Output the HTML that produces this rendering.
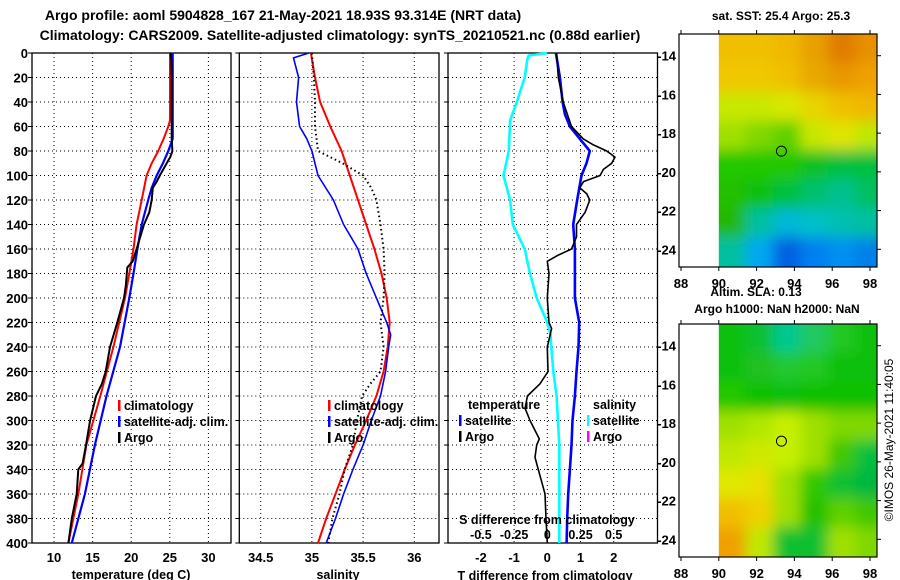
<!DOCTYPE html>
<html><head><meta charset="utf-8"><style>
html,body{margin:0;padding:0;background:#fff}
svg{display:block}
text{font-family:"Liberation Sans",sans-serif;font-weight:bold;fill:#000}
</style></head><body>
<svg id="s" width="900" height="580" viewBox="0 0 900 580" xmlns="http://www.w3.org/2000/svg">
<text x="283" y="20" font-size="14" text-anchor="middle">Argo profile: aoml 5904828_167 21-May-2021 18.93S 93.314E (NRT data)</text>
<text x="340" y="40" font-size="14" text-anchor="middle">Climatology: CARS2009. Satellite-adjusted climatology: synTS_20210521.nc (0.88d earlier)</text>
<g id="g1"></g>
<g id="g2"></g>
<g id="g3"></g>
<g id="m1"></g>
<g id="m2"></g>
<text x="781" y="20" font-size="12" text-anchor="middle">sat. SST: 25.4 Argo: 25.3</text>
<text x="756" y="296" font-size="12" text-anchor="middle">Altim. SLA: 0.13</text>
<text x="777" y="313" font-size="12" text-anchor="middle">Argo h1000: NaN h2000: NaN</text>
<text transform="translate(893,440) rotate(-90)" font-size="12" style="font-weight:normal" text-anchor="middle">©IMOS 26-May-2021 11:40:05</text>
</svg>
<script>
// ---- data ----
const depthTicks=[0,20,40,60,80,100,120,140,160,180,200,220,240,260,280,300,320,340,360,380,400];
const tTicks=[10,15,20,25,30];
const sTicks=[34.5,35,35.5,36];
const dTicks=[-2,-1,0,1,2];
const sdTicks=[-0.5,-0.25,0,0.25,0.5];
const sdTickLabels=["-0.5","-0.25","0","0.25","0.5"];

const climTdepth=[0,55,60,70,80,90,100,120,140,160,180,200,240,280,320,360,400];
const climT=[25.03,25.03,24.8,24.2,23.5,22.65,22.0,21.36,20.7,20.3,19.76,19.2,17.7,16.0,14.2,13.15,11.86];
const satTdepth=[0,70,80,90,100,110,120,140,160,180,200,240,280,320,360,400];
const satT=[25.38,25.38,24.8,24.1,23.3,22.65,22.2,21.36,20.8,20.3,19.76,18.55,16.8,15.3,14.0,12.3];
const argoTdepth=[0,5,20,70,80,85,90,100,105,110,120,130,140,160,170,175,190,200,220,240,260,270,280,300,320,335,340,360,380,400];
const argoT=[25.1,25.2,25.25,25.25,25.34,25.05,24.6,23.7,23.3,22.8,22.65,22.35,21.66,20.7,20.2,19.5,19.3,19.07,18.2,17.26,16.7,16.2,15.44,14.67,14.15,13.7,13.15,12.94,12.3,11.86];

const climSdepth=[0,20,40,60,80,100,120,140,160,180,200,220,240,260,280,300,320,340,360,380,400];
const climS=[34.99,35.03,35.08,35.18,35.29,35.37,35.45,35.53,35.61,35.68,35.73,35.76,35.74,35.70,35.63,35.53,35.42,35.32,35.23,35.14,35.06];
const satSdepth=[0,4,20,40,60,70,80,100,120,140,160,180,200,220,230,240,260,280,300,320,340,360,380,400];
const satS=[34.97,34.82,34.87,34.85,34.88,34.95,35.0,35.06,35.21,35.31,35.45,35.53,35.63,35.73,35.77,35.75,35.72,35.67,35.58,35.50,35.40,35.31,35.23,35.14];
const argoSdepth=[0,20,40,60,80,90,100,110,120,140,160,180,200,220,240,260,270,280,300,320,340,360,380,400];
const argoS=[35.0,35.02,35.03,35.03,35.06,35.3,35.5,35.58,35.63,35.67,35.70,35.71,35.70,35.67,35.70,35.67,35.57,35.49,35.44,35.40,35.32,35.27,35.20,35.16];

const dTdepth=[0,20,40,50,60,70,80,90,100,120,140,160,180,200,220,240,260,280,300,320,340,360,380,400];
const dTsat=[0.26,0.38,0.46,0.53,0.68,0.98,1.28,1.18,1.03,0.9,0.78,0.83,0.83,0.83,0.96,0.94,0.88,0.83,0.76,0.73,0.68,0.63,0.6,0.58];
const dSdepth=[0,2,5,20,40,55,80,100,120,140,160,180,200,220,230,240,260,280,300,320,360,400];
const dSsat=[0,-0.14,-0.15,-0.17,-0.23,-0.28,-0.29,-0.33,-0.28,-0.26,-0.17,-0.13,-0.08,0,0.025,0.03,0.045,0.07,0.08,0.09,0.09,0.09];
const dAdepth=[0,20,40,60,70,75,80,85,90,95,100,105,110,115,120,130,140,150,160,165,170,180,200,220,225,240,260,270,280,290,300,315,320,330,340,350,360,380,400];
const dTargo=[0.28,0.33,0.48,0.73,1.08,1.39,1.79,2.04,1.94,1.69,1.59,1.09,0.98,1.19,1.28,1.14,0.88,0.88,0.73,0.33,0,0.05,0,0.05,0.13,0,0.02,-0.22,-0.6,-0.67,-0.52,-0.24,-0.32,-0.37,-0.27,-0.17,-0.07,-0.04,0];

const map1Colors=[
["#f0c000","#f0c000","#f0b800","#e8a000","#e07c00","#e89000"],
["#f0c800","#f0c800","#f0c000","#e8a800","#e89800","#f0a000"],
["#c8e800","#c8e800","#d8e800","#e8d400","#f0c000","#f0b800"],
["#a0e000","#80d800","#60d000","#c8e800","#e0e400","#c0e800"],
["#20c800","#20c800","#20c800","#10c020","#00c040","#00c040"],
["#20c000","#10c010","#00c040","#00c070","#00c090","#00c060"],
["#20b800","#00c0a0","#00b8d8","#00c0c8","#00c0b0","#00c0a0"],
["#00c0a0","#00a8f0","#0060e0","#0080f0","#0090f0","#0080e8"]];
const map2Colors=[
["#10c010","#10c030","#00c890","#20c860","#20c820","#10c010"],
["#10c010","#20c020","#20c830","#20c820","#10c010","#10c010"],
["#20c800","#10c000","#10c010","#10c000","#10c000","#10c000"],
["#a0e000","#b0e800","#c8f000","#a0e000","#80d800","#80d800"],
["#c0e800","#d0e800","#c8f000","#a0e000","#40c800","#00c040"],
["#e0e800","#e8e000","#a0e000","#30c800","#10c030","#00b840"],
["#f0c000","#f0d000","#a0e000","#20c000","#60d000","#40c800"],
["#f0a000","#c0e800","#10c030","#10c030","#a0e000","#80d800"]];
const lonTicks=[88,90,92,94,96,98];
const latTicks=[-14,-16,-18,-20,-22,-24];
const argoLon=93.314, argoLat=-18.93;

// ---- drawing ----
const NS="http://www.w3.org/2000/svg";
function mk(tag,attrs,parent){const e=document.createElementNS(NS,tag);for(const k in attrs)e.setAttribute(k,attrs[k]);parent.appendChild(e);return e;}
const Y=d=>53+d*1.225;
const YT=53, YB=543;
const X1=t=>54+(t-10)*7.72;
const X2=s=>260.7+(s-34.5)*102.4;
const X3=t=>547.3+t*33.2;
const XS=s=>547.3+s*132.8;

function frame(g,x0,x1,xs,xticks,labelFmt){
  for(const t of xticks){const l=mk('line',{x1:xs(t),x2:xs(t),y1:YT,y2:YB,stroke:'#000','stroke-width':1,'stroke-dasharray':'1 3'},g);
  }
  for(const d of depthTicks){if(d===0||d===400)continue;const l=mk('line',{x1:x0,x2:x1,y1:Y(d),y2:Y(d),stroke:'#000','stroke-width':1,'stroke-dasharray':'1 3'},g);
  }
  for(const d of depthTicks){const l=mk('line',{x1:x0-4,x2:x0,y1:Y(d),y2:Y(d),stroke:'#000'},g);
  }
  if(labelFmt){for(const t of xticks){const tx=mk('text',{x:xs(t),y:YB+19,'font-size':13,'text-anchor':'middle'},g);tx.textContent=labelFmt(t);
  }}
  const r=mk('rect',{x:x0,y:YT,width:x1-x0,height:YB-YT,fill:'none',stroke:'#000','stroke-width':1.3},g);
  
}
function line(g,xs,vals,depths,color,w,name,dash){
  const p=vals.map((v,i)=>xs(v).toFixed(1)+','+Y(depths[i]).toFixed(1)).join(' ');
  const e=mk('polyline',{points:p,fill:'none',stroke:color,'stroke-width':w,'stroke-linejoin':'round'},g);
  if(dash)e.setAttribute('stroke-dasharray',dash);
  
}
function legend(g,x,y,items){
  items.forEach((it,i)=>{const yy=y+i*16;
    const m=mk('rect',{x:x,y:yy-10,width:2.5,height:11,fill:it[1]},g);
    
    const t=mk('text',{x:x+6,y:yy,'font-size':12.5},g);t.textContent=it[0];
    });
}
// panel 1
const g1=document.getElementById('g1');
frame(g1,32,231,X1,tTicks,t=>String(t));
for(const d of depthTicks){const t=mk('text',{x:28,y:Y(d)+5,'font-size':13,'text-anchor':'end'},g1);t.textContent=d;
}
line(g1,X1,climT,climTdepth,'#f00',2,'climatology-temperature-line');
line(g1,X1,satT,satTdepth,'#00f',2.2,'satellite-temperature-line');
line(g1,X1,argoT,argoTdepth,'#000',2,'argo-temperature-line');
legend(g1,118,410,[['climatology','#f00'],['satellite-adj. clim.','#00f'],['Argo','#000']]);
let t=mk('text',{x:131,y:579,'font-size':12.5,'text-anchor':'middle'},g1);t.textContent='temperature (deg C)';

// panel 2
const g2=document.getElementById('g2');
frame(g2,239.3,439,X2,sTicks,s=>String(s));
line(g2,X2,climS,climSdepth,'#f00',2,'climatology-salinity-line');
line(g2,X2,satS,satSdepth,'#00f',1.6,'satellite-salinity-line');
line(g2,X2,argoS,argoSdepth,'#000',2,'argo-salinity-line','1.5 3');
legend(g2,328,410,[['climatology','#f00'],['satellite-adj. clim.','#00f'],['Argo','#000']]);
t=mk('text',{x:338,y:579,'font-size':12.5,'text-anchor':'middle'},g2);t.textContent='salinity';

// panel 3
const g3=document.getElementById('g3');
frame(g3,448,657.5,X3,dTicks,v=>String(v));
line(g3,XS,dSsat,dSdepth,'#0ff',2.6,'salinity-difference-line');
line(g3,X3,dTsat,dTdepth,'#00f',2.6,'temperature-difference-line');
line(g3,X3,dTargo,dAdepth,'#000',1.6,'argo-temperature-difference-line');
t=mk('text',{x:468,y:409,'font-size':12.5},g3);t.textContent='temperature';

t=mk('text',{x:593,y:409,'font-size':12.5},g3);t.textContent='salinity';

legend(g3,459,425,[['satellite','#00f'],['Argo','#000']]);
legend(g3,587,425,[['satellite','#0ff'],['Argo','#f0f']]);
t=mk('text',{x:547,y:524,'font-size':12.5,'text-anchor':'middle'},g3);t.textContent='S difference from climatology';

sdTicks.forEach((v,i)=>{const e=mk('text',{x:XS(v),y:539,'font-size':12.5,'text-anchor':'middle'},g3);e.textContent=sdTickLabels[i];
});
t=mk('text',{x:545,y:580,'font-size':12.5,'text-anchor':'middle'},g3);t.textContent='T difference from climatology';

// maps
function map(id,top,colors){
  const g=document.getElementById(id);
  const LX=lon=>681+(lon-88)*18.9;
  const LY=lat=>top+21.7+(-14-lat)*19.36;
  const x0=679,x1=877,y0=top,y1=top+233;
  const cid='clip'+id;
  const cp=mk('clipPath',{id:cid},g);mk('rect',{x:LX(90),y:y0,width:x1-LX(90),height:y1-y0},cp);
  const fid='blur'+id;const f=mk('filter',{id:fid,x:'-20%',y:'-20%',width:'140%',height:'140%'},g);mk('feGaussianBlur',{stdDeviation:7},f);
  const cg=mk('g',{'clip-path':'url(#'+cid+')'},g);
  const bg=mk('g',{filter:'url(#'+fid+')'},cg);
  const rows=colors.length,cols=colors[0].length;
  const lat0=-12.9,lat1=-24.9,lon0=90,lon1=98.7;
  for(let r=0;r<rows;r++)for(let c=0;c<cols;c++){
    const ax=LX(lon0+(lon1-lon0)*c/cols),bx=LX(lon0+(lon1-lon0)*(c+1)/cols);
    const ay=LY(lat0+(lat1-lat0)*r/rows),by=LY(lat0+(lat1-lat0)*(r+1)/rows);
    const e=mk('rect',{x:ax-(c==0?20:0)-0.5,y:ay-(r==0?20:0)-0.5,width:bx-ax+(c==0?20:0)+(c==cols-1?20:0)+1,height:by-ay+(r==0?20:0)+(r==rows-1?20:0)+1,fill:colors[r][c]},bg);
    
  }
  const fr=mk('rect',{x:x0,y:y0,width:x1-x0,height:y1-y0,fill:'none',stroke:'#000','stroke-width':1.2},g);
  
  for(const lo of lonTicks){mk('line',{x1:LX(lo),x2:LX(lo),y1:y0-4,y2:y0,stroke:'#000'},g);mk('line',{x1:LX(lo),x2:LX(lo),y1:y1,y2:y1+4,stroke:'#000'},g);
    const e=mk('text',{x:LX(lo),y:y1+21,'font-size':13,'text-anchor':'middle'},g);e.textContent=lo;
    }
  for(const la of latTicks){mk('line',{x1:x1,x2:x1+4,y1:LY(la),y2:LY(la),stroke:'#000'},g);
    const e=mk('text',{x:676,y:LY(la)+5,'font-size':13,'text-anchor':'end'},g);e.textContent=la;
    }
  const ci=mk('circle',{cx:LX(argoLon),cy:LY(argoLat),r:5,fill:'none',stroke:'#000','stroke-width':1},g);
  
}
map('m1',34,map1Colors);
map('m2',324,map2Colors);
</script>
</body></html>
